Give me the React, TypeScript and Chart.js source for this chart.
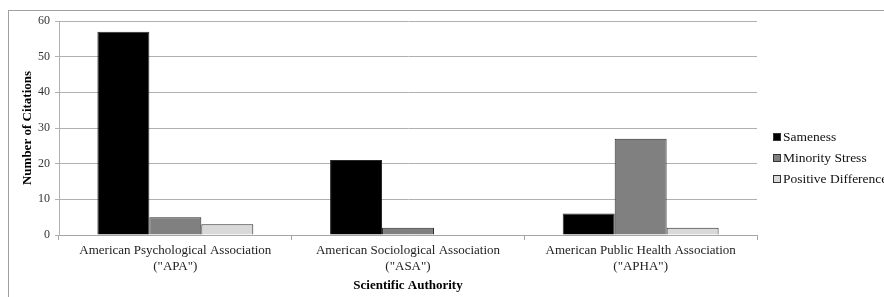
import React, { useEffect, useRef } from "react";
import { Chart, registerables } from "chart.js";

Chart.register(...registerables);

const categories: string[][] = [
  ["American Psychological Association", "(\"APA\")"],
  ["American Sociological Association", "(\"ASA\")"],
  ["American Public Health Association", "(\"APHA\")"],
];
const seriesNames = ["Sameness", "Minority Stress", "Positive Difference"];
const sameness = [57, 21, 6];
const minorityStress = [5, 2, 27];
const positiveDifference = [3, 0, 2];
const yTicks = [0, 10, 20, 30, 40, 50, 60];

const FONT = '"Liberation Serif", "Times New Roman", serif';
const fills = ["#000000", "#808080", "#d9d9d9"];

const legendPlugin = {
  id: "sideLegend",
  afterDraw(chart: any) {
    const { ctx, chartArea } = chart;
    ctx.save();
    ctx.font = `13.5px ${FONT}`;
    ctx.textBaseline = "middle";
    ctx.textAlign = "left";
    const x = chartArea.right + 17;
    chart.data.datasets.forEach((ds: any, i: number) => {
      const y = chartArea.top + 116 + i * 21;
      ctx.fillStyle = ds.backgroundColor;
      ctx.fillRect(x, y - 3, 6, 6);
      ctx.strokeStyle = "#333333";
      ctx.lineWidth = 1;
      ctx.strokeRect(x - 0.5, y - 3.5, 7, 7);
      ctx.fillStyle = "#111111";
      ctx.fillText(ds.label, x + 9, y + 0.5);
    });
    ctx.restore();
  },
};

export default function App() {
  const ref = useRef<HTMLCanvasElement | null>(null);

  useEffect(() => {
    if (!ref.current) return;
    const values = [sameness, minorityStress, positiveDifference];
    const chart = new Chart(ref.current, {
      type: "bar",
      data: {
        labels: categories,
        datasets: seriesNames.map((name, i) => ({
          label: name,
          data: values[i],
          backgroundColor: fills[i],
          borderColor: "#2a2a2a",
          borderWidth: 1,
          categoryPercentage: 0.67,
          barPercentage: 1,
        })),
      },
      options: {
        responsive: false,
        animation: false,
        layout: { padding: { top: 21, right: 127, bottom: 0, left: 0 } },
        plugins: {
          legend: { display: false },
          tooltip: { enabled: false },
        },
        scales: {
          x: {
            grid: {
              offset: true,
              drawOnChartArea: false,
              tickLength: 5,
              color: "#a6a6a6",
            },
            border: { display: true, color: "#a6a6a6" },
            ticks: {
              color: "#222222",
              padding: 3,
              maxRotation: 0,
              font: { family: FONT, size: 13, lineHeight: 1.23 },
            },
            title: {
              display: true,
              text: "Scientific Authority",
              color: "#000000",
              padding: { top: 0, bottom: 4 },
              font: { family: FONT, size: 13, weight: "bold" },
            },
            afterFit(scale: any) {
              scale.height = 62;
            },
          },
          y: {
            min: 0,
            max: 60,
            afterBuildTicks(scale: any) {
              scale.ticks = yTicks.map((v) => ({ value: v }));
            },
            grid: {
              color: "#b0b0b0",
              tickLength: 4,
            },
            border: { display: true, color: "#b0b0b0" },
            ticks: {
              color: "#333333",
              padding: 5,
              font: { family: FONT, size: 12 },
            },
            title: {
              display: true,
              text: "Number of Citations",
              color: "#000000",
              padding: { top: 20, bottom: 0 },
              font: { family: FONT, size: 13, weight: "bold" },
            },
            afterFit(scale: any) {
              scale.width = 59;
            },
          },
        },
      },
      plugins: [legendPlugin],
    });
    return () => chart.destroy();
  }, []);

  return (
    <div
      style={{
        position: "fixed",
        left: 0,
        top: 0,
        width: 884,
        height: 297,
        overflow: "hidden",
        background: "#ffffff",
      }}
    >
      <div
        style={{
          position: "absolute",
          left: 8,
          top: 10,
          width: 900,
          height: 320,
          border: "1px solid #a0a0a0",
          boxSizing: "border-box",
        }}
      />
      <canvas
        ref={ref}
        width={884}
        height={297}
        style={{ position: "absolute", left: 0, top: 0, width: 884, height: 297 }}
      />
    </div>
  );
}
